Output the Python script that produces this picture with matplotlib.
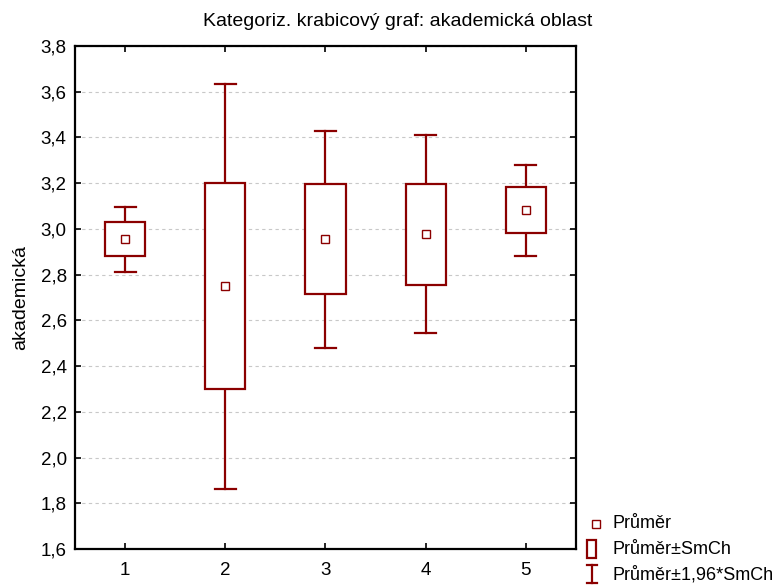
import numpy as np
import matplotlib.pyplot as plt
from matplotlib.patches import Rectangle
from matplotlib.lines import Line2D
from matplotlib.ticker import FuncFormatter

plt.rcParams['font.family'] = ['Liberation Sans', 'DejaVu Sans']

# values
categories = [1, 2, 3, 4, 5]
means = [2.955, 2.748, 2.955, 2.977, 3.082]
box_low = [2.881, 2.298, 2.714, 2.756, 2.982]
box_high = [3.029, 3.199, 3.195, 3.198, 3.182]
whisk_low = [2.811, 1.862, 2.480, 2.543, 2.881]
whisk_high = [3.097, 3.634, 3.427, 3.411, 3.281]

col = '#8b0000'
box_w = 0.4
cap_w = 0.21

fig = plt.figure(figsize=(7.77, 5.85), dpi=100)
ax = fig.add_axes([0.0965, 0.0615, 0.6448, 0.86])

for x, m, bl, bh, wl, wh in zip(categories, means, box_low, box_high, whisk_low, whisk_high):
    # whiskers
    ax.plot([x, x], [bh, wh], color=col, lw=1.6, zorder=3)
    ax.plot([x, x], [wl, bl], color=col, lw=1.6, zorder=3)
    ax.plot([x - cap_w / 2, x + cap_w / 2], [wh, wh], color=col, lw=1.6, zorder=3)
    ax.plot([x - cap_w / 2, x + cap_w / 2], [wl, wl], color=col, lw=1.6, zorder=3)
    # box
    ax.add_patch(Rectangle((x - box_w / 2, bl), box_w, bh - bl, facecolor='white',
                           edgecolor=col, lw=1.6, zorder=3))
    # mean
    ax.plot(x, m, marker='s', ms=6, mfc='white', mec=col, mew=1.0, zorder=4)

ax.set_xlim(0.5, 5.5)
ax.set_ylim(1.6, 3.8)
ax.set_xticks(categories)
ax.set_yticks(np.arange(1.6, 3.81, 0.2))
ax.yaxis.set_major_formatter(FuncFormatter(lambda v, p: f'{v:.1f}'.replace('.', ',')))
ax.tick_params(direction='in', length=4, width=1.2, labelsize=13.5,
               top=True, right=True)
ax.tick_params(axis='x', pad=9)
ax.tick_params(axis='y', pad=6)
for s in ax.spines.values():
    s.set_linewidth(1.6)
ax.grid(axis='y', linestyle=(0, (3, 3)), color='#c8c8c8', lw=0.8)
ax.set_axisbelow(True)

ax.set_ylabel('akademická', fontsize=14, labelpad=8)

# legend drawn outside the axes, bottom right
W, H = 777, 585
def fx(px):
    return px / W
def fy(py):
    return 1 - py / H

fig.text(fx(398), fy(21), 'Kategoriz. krabicový graf: akademická oblast', fontsize=14,
         ha='center', va='center')

fig.add_artist(Line2D([fx(596)], [fy(524)], marker='s', ms=5.5, mfc='white', mec=col, mew=1.0))
fig.add_artist(Rectangle((fx(587), fy(558)), 9 / W, 18 / H, facecolor='white',
                         edgecolor=col, lw=1.6, transform=fig.transFigure))
fig.add_artist(Line2D([fx(592), fx(592)], [fy(565), fy(583)], color=col, lw=1.6))
fig.add_artist(Line2D([fx(587), fx(597)], [fy(565), fy(565)], color=col, lw=1.6))
fig.add_artist(Line2D([fx(587), fx(597)], [fy(583), fy(583)], color=col, lw=1.6))

for txt, py in [('Průměr', 524), ('Průměr±SmCh', 550), ('Průměr±1,96*SmCh', 575)]:
    fig.text(fx(612), fy(py), txt, fontsize=13, va='center', ha='left')

fig.savefig('out.png', dpi=100)
